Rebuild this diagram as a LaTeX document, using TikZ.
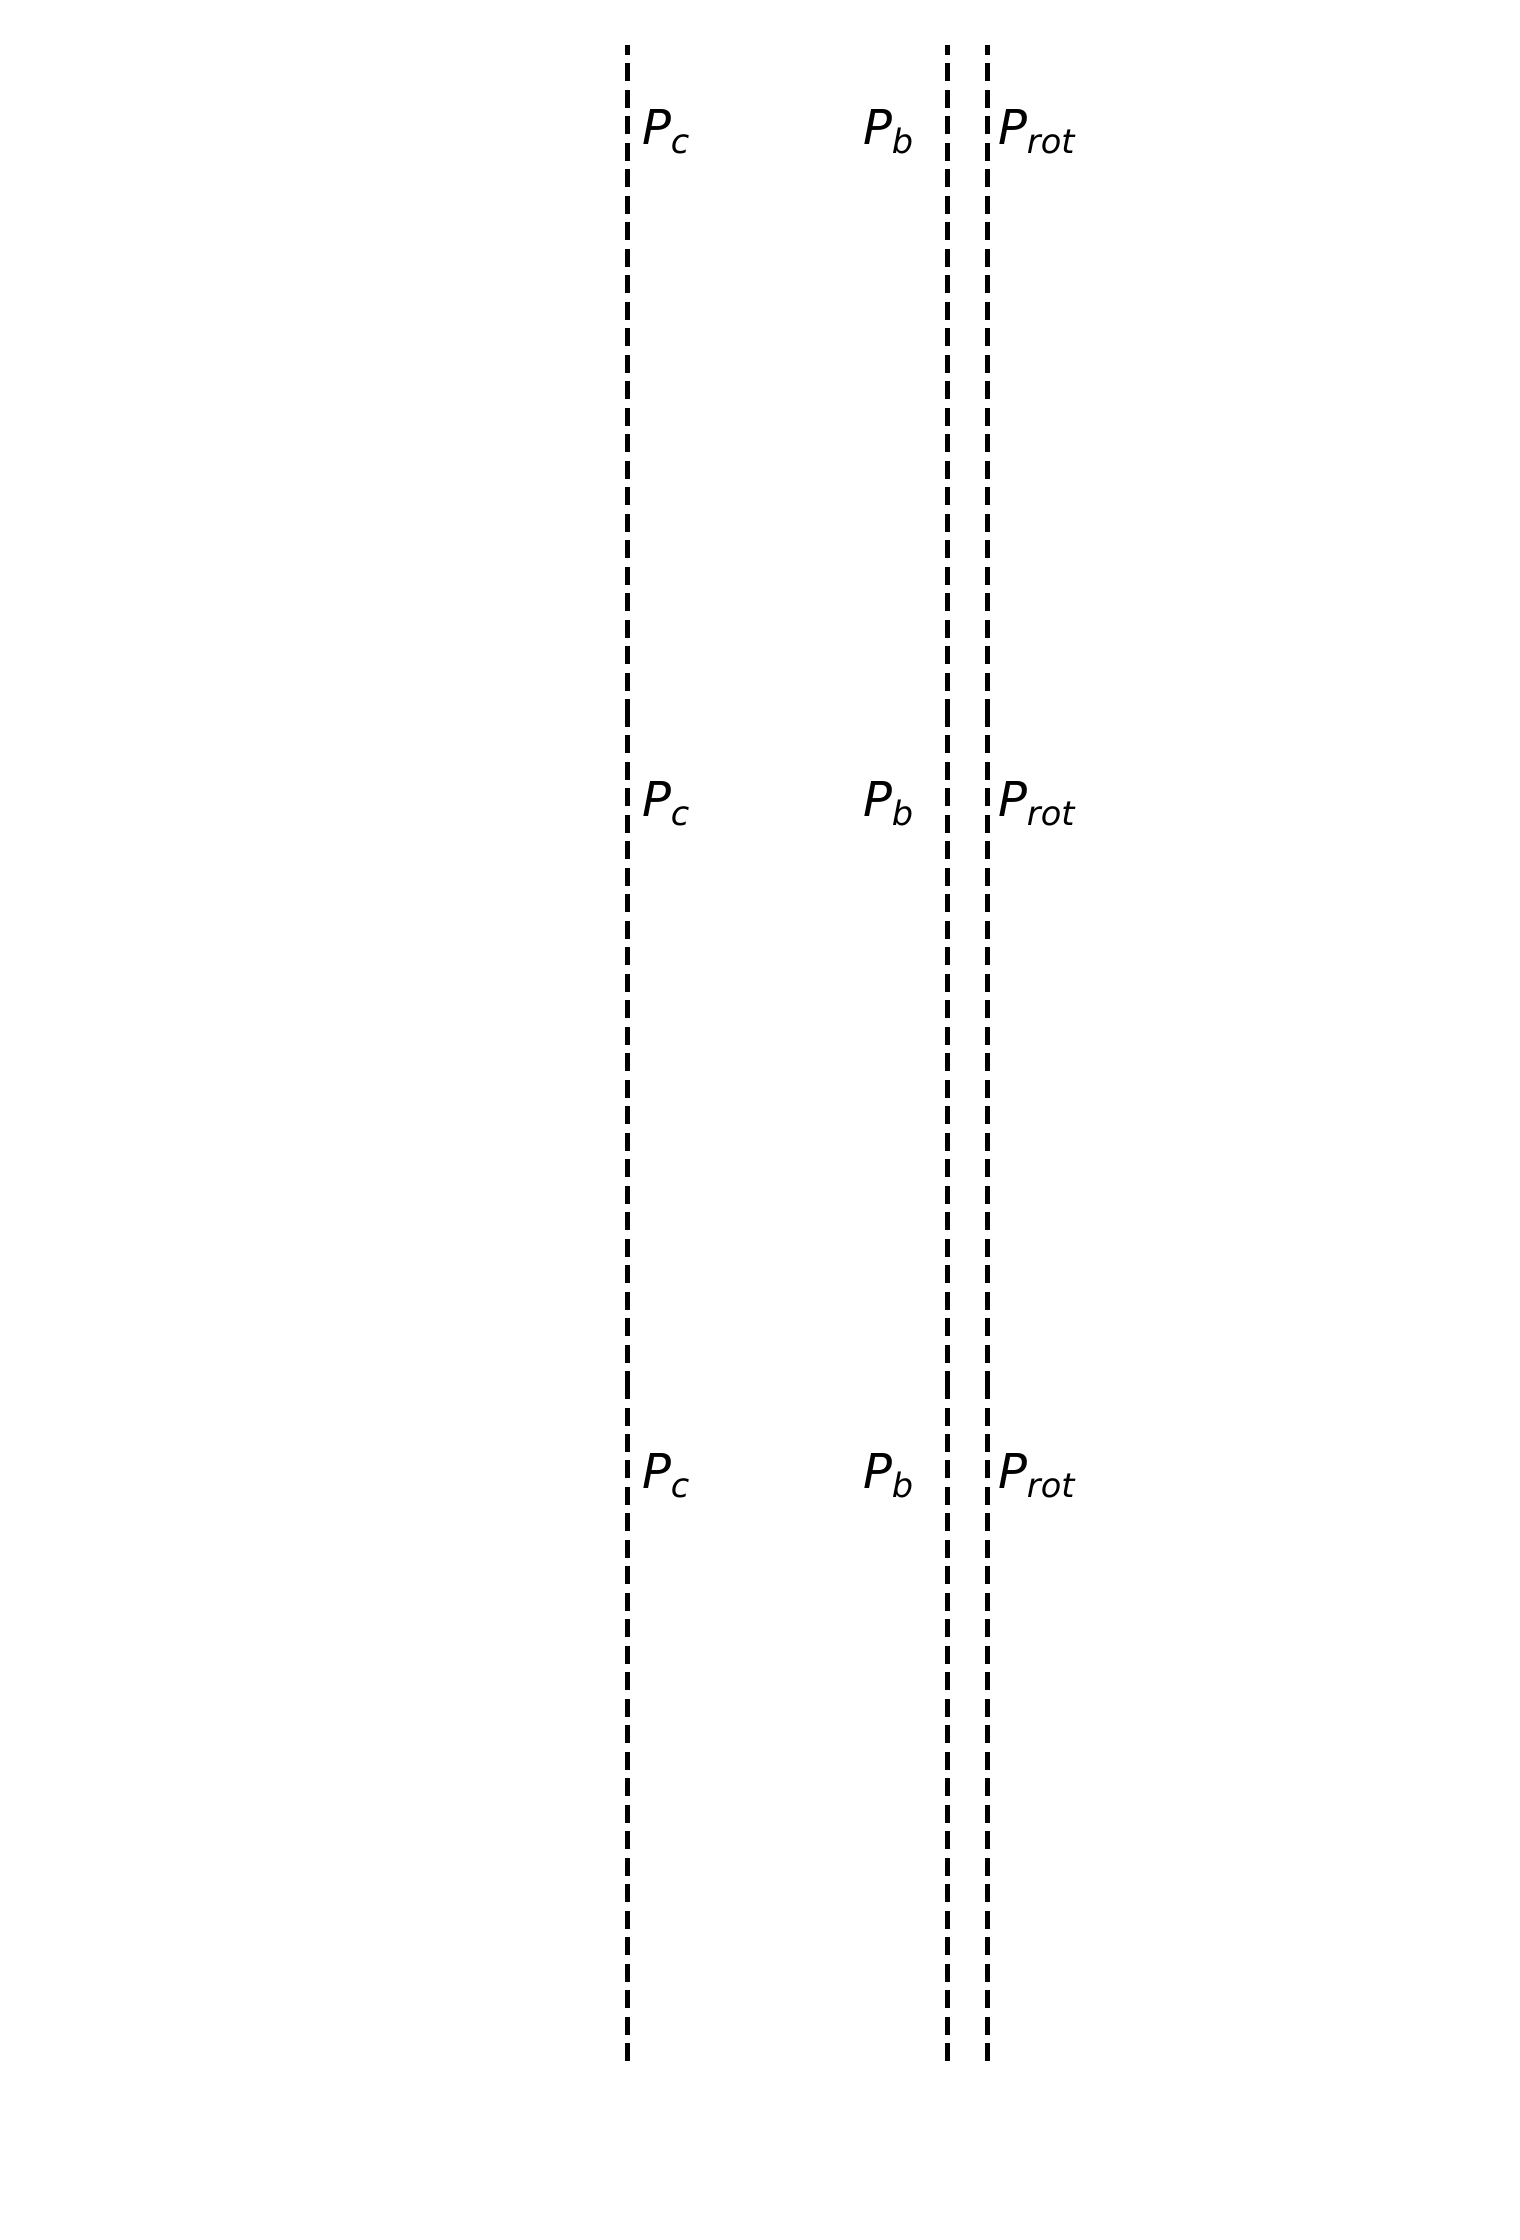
\documentclass[tikz,border=0pt]{standalone}
\usepackage{fontspec}
\newfontfamily\dvs{DejaVu Sans}
\newcommand{\plab}[1]{{\dvs\itshape\fontsize{24pt}{28pt}\selectfont P\raisebox{-4.6pt}{\fontsize{16.8pt}{20pt}\selectfont #1}}}
\tikzset{
  vline/.style={line width=2.5pt, dash pattern=on 9pt off 4.24pt, black},
  lab/.style={anchor=base west, inner sep=0pt, outer sep=0pt}
}
\begin{document}
\begin{tikzpicture}[x=0.5pt,y=-0.5pt]
\useasboundingbox[fill=white] (0,0) rectangle (1520,2240);
\foreach \i/\top/\bot in {1/45/717,2/717/1389,3/1389/2061}{
  \coordinate (cb\i) at (627,\bot); \coordinate (ct\i) at (627,\top);
  \coordinate (bb\i) at (947,\bot); \coordinate (bt\i) at (947,\top);
  \coordinate (rb\i) at (987,\bot); \coordinate (rt\i) at (987,\top);
  \draw[vline] (cb\i) -- (ct\i);
  \draw[vline] (bb\i) -- (bt\i);
  \draw[vline] (rb\i) -- (rt\i);
  \node[lab] (pc\i) at (642,\top+99) {\plab{c}};
  \node[lab] (pb\i) at (863,\top+99) {\plab{b}};
  \node[lab] (pr\i) at (998,\top+99) {\plab{rot}};
}
\end{tikzpicture}
\end{document}
